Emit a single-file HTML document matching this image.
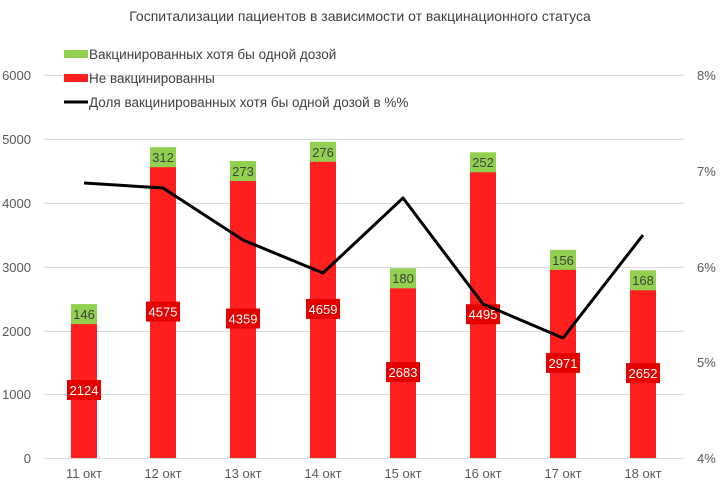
<!DOCTYPE html><html><head><meta charset="utf-8"><style>body{margin:0;background:#fff}svg{display:block}text{font-family:"Liberation Sans",sans-serif}</style></head><body>
<svg width="720" height="484" viewBox="0 0 720 484">
<text x="360" y="21" text-anchor="middle" font-size="14" fill="#404040">Госпитализации пациентов в зависимости от вакцинационного статуса</text>
<g stroke="#d9d9d9" stroke-width="1">
<line x1="44" y1="75.5" x2="684" y2="75.5"/><line x1="44" y1="139.5" x2="684" y2="139.5"/><line x1="44" y1="203.5" x2="684" y2="203.5"/><line x1="44" y1="267.5" x2="684" y2="267.5"/><line x1="44" y1="331.5" x2="684" y2="331.5"/><line x1="44" y1="394.5" x2="684" y2="394.5"/><line x1="44" y1="458.5" x2="684" y2="458.5"/>
</g>
<g font-size="13" fill="#595959" text-anchor="end">
<text x="31" y="80">6000</text><text x="31" y="144">5000</text><text x="31" y="208">4000</text><text x="31" y="272">3000</text><text x="31" y="336">2000</text><text x="31" y="399">1000</text><text x="31" y="463">0</text>
</g>
<g font-size="13" fill="#595959">
<text x="697" y="80">8%</text><text x="697" y="176">7%</text><text x="697" y="272">6%</text><text x="697" y="367">5%</text><text x="697" y="463">4%</text>
</g>
<g fill="#ff1f1f">
<rect x="71" y="322.1" width="26" height="135.9"/>
<rect x="150" y="165.2" width="26" height="292.8"/>
<rect x="230" y="179.0" width="26" height="279"/>
<rect x="310" y="159.8" width="26" height="298.2"/>
<rect x="390" y="286.3" width="26" height="171.7"/>
<rect x="470" y="170.3" width="26" height="287.7"/>
<rect x="550" y="267.9" width="26" height="190.1"/>
<rect x="630" y="288.3" width="26" height="169.7"/>
</g>
<g fill="#e50000">
<rect x="67" y="380" width="34" height="20"/>
<rect x="146" y="301.6" width="34" height="20"/>
<rect x="226" y="308.5" width="34" height="20"/>
<rect x="306" y="298.9" width="34" height="20"/>
<rect x="386" y="362.1" width="34" height="20"/>
<rect x="466" y="304.2" width="34" height="20"/>
<rect x="546" y="352.9" width="34" height="20"/>
<rect x="626" y="363.1" width="34" height="20"/>
</g>
<g font-size="13" fill="#fff" text-anchor="middle">
<text x="84" y="395">2124</text><text x="163" y="316.6">4575</text><text x="243" y="323.5">4359</text><text x="323" y="313.9">4659</text><text x="403" y="377.1">2683</text><text x="483" y="319.2">4495</text><text x="563" y="367.9">2971</text><text x="643" y="378.1">2652</text>
</g>
<g fill="#92d050">
<rect x="71" y="304.1" width="26" height="20"/>
<rect x="150" y="147.2" width="26" height="20"/>
<rect x="230" y="161.0" width="26" height="20"/>
<rect x="310" y="141.8" width="26" height="20"/>
<rect x="390" y="268.3" width="26" height="20"/>
<rect x="470" y="152.3" width="26" height="20"/>
<rect x="550" y="249.9" width="26" height="20"/>
<rect x="630" y="270.3" width="26" height="20"/>
</g>
<g font-size="13" fill="#404040" text-anchor="middle">
<text x="84" y="319">146</text><text x="163" y="162">312</text><text x="243" y="176">273</text><text x="323" y="157">276</text><text x="403" y="283">180</text><text x="483" y="167">252</text><text x="563" y="265">156</text><text x="643" y="285">168</text>
</g>
<polyline points="84,183 163,188 243,240 323,273 403,198 483,304 563,338 643,235" fill="none" stroke="#000" stroke-width="3" stroke-linejoin="round"/>
<rect x="64" y="50" width="24" height="8" fill="#92d050"/><text x="89" y="59" font-size="13.5" fill="#404040">Вакцинированных хотя бы одной дозой</text>
<rect x="64" y="74" width="24" height="8" fill="#ff1f1f"/><text x="89" y="83" font-size="13.5" fill="#404040">Не вакцинированны</text>
<line x1="64" y1="102" x2="88" y2="102" stroke="#000" stroke-width="3"/><text x="89" y="107" font-size="13.5" fill="#404040">Доля вакцинированных хотя бы одной дозой в %%</text>
<g font-size="13" fill="#595959" text-anchor="middle">
<text x="84" y="478">11 окт</text><text x="163" y="478">12 окт</text><text x="243" y="478">13 окт</text><text x="323" y="478">14 окт</text><text x="403" y="478">15 окт</text><text x="483" y="478">16 окт</text><text x="563" y="478">17 окт</text><text x="643" y="478">18 окт</text>
</g>
</svg></body></html>
